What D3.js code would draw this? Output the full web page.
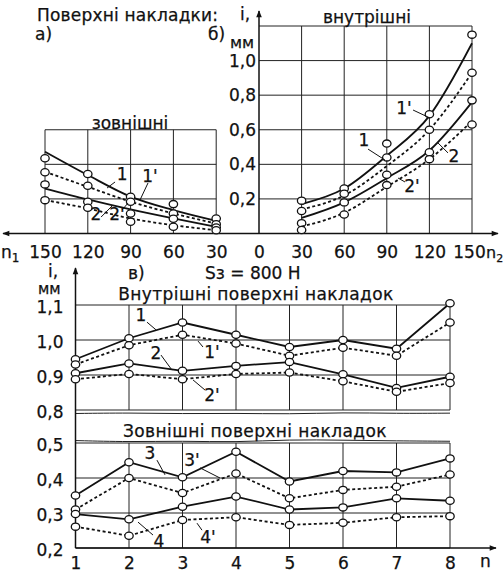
<!DOCTYPE html>
<html>
<head>
<meta charset="utf-8">
<script src="https://cdn.jsdelivr.net/npm/d3@7"></script>
<style>
  body { margin: 0; background: #fff; }
  text { font-family: "DejaVu Sans", "Liberation Sans", sans-serif; fill: #111; stroke: #111; stroke-width: 0.25px; }
</style>
</head>
<body>
<svg id="chart" width="503" height="572"></svg>
<script>
// ---------- top graphs (а - зовнішні, б - внутрішні), i vs n ----------
const nTop = [30, 60, 90, 120, 150];
const topYTicks = [0.2, 0.4, 0.6, 0.8, 1.0];

// а) зовнішні: fitted curves
const aCurve1  = [0.073, 0.135, 0.213, 0.338, 0.473];
const aCurve1p = [0.058, 0.116, 0.184, 0.270, 0.357];
const aCurve2  = [0.039, 0.087, 0.139, 0.197, 0.260];
const aCurve2p = [0.019, 0.048, 0.087, 0.145, 0.193];
// а) measured points
const aPts1  = [0.087, 0.170, 0.213, 0.344, 0.435];
const aPts1p = [0.054, 0.116, 0.184, 0.276, 0.354];
const aPts2  = [0.035, 0.085, 0.116, 0.184, 0.284];
const aPts2p = [0.019, 0.039, 0.068, 0.149, 0.193];

// б) внутрішні: fitted curves
const bCurve1  = [0.17, 0.26, 0.45, 0.68, 1.10];
const bCurve1p = [0.14, 0.22, 0.39, 0.60, 0.93];
const bCurve2  = [0.09, 0.18, 0.32, 0.48, 0.76];
const bCurve2p = [0.04, 0.12, 0.27, 0.43, 0.65];
// б) measured points
const bPts1  = [0.19, 0.26, 0.52, 0.69, 1.15];
const bPts1p = [0.13, 0.23, 0.44, 0.60, 0.93];
const bPts2  = [0.06, 0.18, 0.34, 0.47, 0.77];
const bPts2p = [0.02, 0.11, 0.28, 0.43, 0.63];

// ---------- bottom graph (в), Sз = 800 Н, i vs n ----------
const nBottom = [1, 2, 3, 4, 5, 6, 7, 8];
const upperYTicks = [0.8, 0.9, 1.0, 1.1];
const lowerYTicks = [0.2, 0.3, 0.4, 0.5];

// внутрішні поверхні накладок
const inner1  = [0.945, 1.005, 1.050, 1.015, 0.980, 1.000, 0.975, 1.105];
const inner1p = [0.930, 0.985, 1.015, 0.990, 0.955, 0.978, 0.955, 1.050];
const inner2  = [0.905, 0.933, 0.912, 0.926, 0.937, 0.902, 0.863, 0.895];
const inner2p = [0.888, 0.903, 0.888, 0.903, 0.907, 0.882, 0.852, 0.877];
// зовнішні поверхні накладок
const outer3  = [0.350, 0.445, 0.402, 0.475, 0.390, 0.420, 0.416, 0.456];
const outer3p = [0.310, 0.400, 0.357, 0.413, 0.342, 0.366, 0.375, 0.410];
const outer4  = [0.297, 0.282, 0.318, 0.347, 0.310, 0.316, 0.342, 0.335];
const outer4p = [0.261, 0.235, 0.280, 0.288, 0.266, 0.272, 0.288, 0.291];

// broken-axis wave lines (values)
const waveUpper = [0.790, 0.792, 0.789, 0.791, 0.788, 0.793, 0.790, 0.791];
const waveLower = [0.507, 0.503, 0.506, 0.502, 0.510, 0.508, 0.506, 0.505];

// curve labels: [text, label n, label i, leader start n, i, leader end n, i]
const aLabels = [
  ["1", 96, 0.312, 100.9, 0.298, 106.5, 0.263],
  ["1'", 76.4, 0.298, 77.8, 0.292, 83.4, 0.194],
  ["2", 114.3, 0.078, 110.7, 0.095, 102.3, 0.165],
  ["2'", 99.5, 0.078, 96, 0.136, 91.8, 0.176]
];
const bLabels = [
  ["1", 73.9, 0.506, 76.8, 0.488, 88.7, 0.425],
  ["1'", 102.1, 0.691, 108.5, 0.714, 120.4, 0.668],
  ["2", 137.3, 0.414, 133.1, 0.466, 125.4, 0.529],
  ["2'", 107.7, 0.24, 102.8, 0.298, 97.9, 0.321]
];
const innerLabels = [
  ["1", 2.224, 1.054, 2.336, 1.051, 2.505, 1.029],
  ["2", 2.505, 0.946, 2.598, 0.957, 2.804, 0.914],
  ["1'", 3.551, 0.949, 3.383, 0.980, 3.290, 0.997],
  ["2'", 3.551, 0.826, 3.421, 0.857, 3.196, 0.886]
];
const outerLabels = [
  ["3", 2.393, 0.454, 2.523, 0.451, 2.673, 0.409],
  ["3'", 3.178, 0.434, 3.327, 0.429, 3.701, 0.400],
  ["4", 2.561, 0.203, 2.449, 0.237, 2.168, 0.274],
  ["4'", 3.477, 0.214, 3.364, 0.251, 3.271, 0.271]
];

// ---------- setup ----------
const svg = d3.select("#chart");
const fmtComma = d => d3.format(".1f")(d).replace(".", ",");

// scales for top graphs
const xA = d3.scaleLinear().domain([0, 150]).range([259, 45]);
const xB = d3.scaleLinear().domain([0, 150]).range([259, 472]);
const yTop = d3.scaleLinear().domain([0, 1.2]).range([233.5, 26]);

// scales for bottom graph
const xBot = d3.scaleLinear().domain([1, 8]).range([75.5, 450]);
const yUp = d3.scaleLinear().domain([0.8, 1.1]).range([410, 305]);
const yLow = d3.scaleLinear().domain([0.2, 0.5]).range([548, 443]);

// arrow marker
svg.append("defs").append("marker")
  .attr("id", "arrow")
  .attr("viewBox", "0 0 10 10")
  .attr("refX", 9).attr("refY", 5)
  .attr("markerWidth", 9).attr("markerHeight", 7)
  .attr("markerUnits", "userSpaceOnUse")
  .attr("orient", "auto-start-reverse")
  .append("path")
  .attr("d", "M0,1 L10,5 L0,9 Z")
  .attr("fill", "#111");

// helper: grid lines
function gridLines(g, xs, ys, x0, x1, y0, y1) {
  g.selectAll(null).data(xs).join("line")
    .attr("x1", d => d.x).attr("x2", d => d.x)
    .attr("y1", y0).attr("y2", y1)
    .attr("stroke", "#222").attr("stroke-width", 1);
  g.selectAll(null).data(ys).join("line")
    .attr("x1", x0).attr("x2", x1)
    .attr("y1", d => d.y).attr("y2", d => d.y)
    .attr("stroke", "#222").attr("stroke-width", 1);
}

// helper: one series (line + circles)
function drawSeries(g, xs, curveVals, ptVals, xScale, yScale, dashed, curve) {
  const line = d3.line()
    .x((d, i) => xScale(xs[i]))
    .y(d => yScale(d))
    .curve(curve);
  g.append("path")
    .datum(curveVals)
    .attr("fill", "none")
    .attr("stroke", "#111")
    .attr("stroke-width", 1.8)
    .attr("stroke-dasharray", dashed ? "3,2.5" : null)
    .attr("d", line);
  g.selectAll(null).data(ptVals).join("ellipse")
    .attr("cx", (d, i) => xScale(xs[i]))
    .attr("cy", d => yScale(d))
    .attr("rx", 4.2).attr("ry", 3.6)
    .attr("fill", "#fff")
    .attr("stroke", "#111")
    .attr("stroke-width", 1.3);
}

// helper: labels with leader lines
function callouts(g, labels, xScale, yScale) {
  g.selectAll(null).data(labels).join("line")
    .attr("x1", d => xScale(d[3])).attr("y1", d => yScale(d[4]))
    .attr("x2", d => xScale(d[5])).attr("y2", d => yScale(d[6]))
    .attr("stroke", "#111").attr("stroke-width", 1);
  g.selectAll(null).data(labels).join("text")
    .attr("x", d => xScale(d[1])).attr("y", d => yScale(d[2]))
    .attr("text-anchor", "middle")
    .style("font-size", "17px")
    .text(d => d[0]);
}

// ================= TOP GRAPHS =================
const topG = svg.append("g");

// panel а grid
gridLines(topG,
  nTop.map(n => ({x: xA(n)})),
  [0.2, 0.4, 0.6].map(v => ({y: yTop(v)})),
  xA(150), xA(30), yTop(0), yTop(0.6));
// panel б grid
gridLines(topG,
  nTop.map(n => ({x: xB(n)})),
  [0.2, 0.4, 0.6, 0.8, 1.0, 1.2].map(v => ({y: yTop(v)})),
  xB(0), xB(150), yTop(0), yTop(1.2));

// axes lines with arrows
topG.append("line")
  .attr("x1", 250).attr("x2", 3)
  .attr("y1", yTop(0)).attr("y2", yTop(0))
  .attr("stroke", "#111").attr("stroke-width", 1.5)
  .attr("marker-end", "url(#arrow)");
topG.append("line")
  .attr("x1", 250).attr("x2", 498)
  .attr("y1", yTop(0)).attr("y2", yTop(0))
  .attr("stroke", "#111").attr("stroke-width", 1.5)
  .attr("marker-end", "url(#arrow)");
topG.append("line")
  .attr("x1", xB(0)).attr("x2", xB(0))
  .attr("y1", yTop(0)).attr("y2", 11)
  .attr("stroke", "#111").attr("stroke-width", 1.5)
  .attr("marker-end", "url(#arrow)");

// curves
const smooth = d3.curveMonotoneX;
drawSeries(topG, nTop, aCurve1, aPts1, xA, yTop, false, smooth);
drawSeries(topG, nTop, aCurve1p, aPts1p, xA, yTop, true, smooth);
drawSeries(topG, nTop, aCurve2, aPts2, xA, yTop, false, smooth);
drawSeries(topG, nTop, aCurve2p, aPts2p, xA, yTop, true, smooth);
drawSeries(topG, nTop, bCurve1, bPts1, xB, yTop, false, smooth);
drawSeries(topG, nTop, bCurve1p, bPts1p, xB, yTop, true, smooth);
drawSeries(topG, nTop, bCurve2, bPts2, xB, yTop, false, smooth);
drawSeries(topG, nTop, bCurve2p, bPts2p, xB, yTop, true, smooth);

// tick labels
const yAxisTop = topG.append("g")
  .attr("transform", `translate(${xB(0)},0)`)
  .call(d3.axisLeft(yTop).tickValues(topYTicks).tickFormat(fmtComma).tickSize(0).tickPadding(3));
const xAxisA = topG.append("g")
  .attr("transform", `translate(0,${yTop(0)})`)
  .call(d3.axisBottom(xA).tickValues(nTop).tickSize(0).tickPadding(12));
const xAxisB = topG.append("g")
  .attr("transform", `translate(0,${yTop(0)})`)
  .call(d3.axisBottom(xB).tickValues([0, ...nTop]).tickSize(0).tickPadding(12));
[yAxisTop, xAxisA, xAxisB].forEach(a => {
  a.select(".domain").remove();
  a.selectAll("text").style("font-size", "17px").attr("fill", "#111");
});
// last label sits tight against n2
xAxisB.selectAll(".tick text").filter(d => d === 150).attr("dx", -3);

// n1, n2
const n1 = topG.append("text").attr("x", 1).attr("y", 258).style("font-size", "17px");
n1.append("tspan").text("n");
n1.append("tspan").attr("dy", 4).style("font-size", "12px").text("1");
const n2 = topG.append("text").attr("x", 486).attr("y", 258).style("font-size", "16px");
n2.append("tspan").text("n");
n2.append("tspan").attr("dy", 4).style("font-size", "11px").text("2");

// titles
topG.append("text").attr("x", 37).attr("y", 21).style("font-size", "17px").style("letter-spacing", "0.2px").text("Поверхні накладки:");
topG.append("text").attr("x", 35).attr("y", 40).style("font-size", "17px").text("а)");
topG.append("text").attr("x", 208).attr("y", 40).style("font-size", "17px").text("б)");
topG.append("text").attr("x", 240).attr("y", 20).style("font-size", "17px").text("i,");
topG.append("text").attr("x", 230).attr("y", 48).style("font-size", "16px").text("мм");
topG.append("text").attr("x", 130).attr("y", 129).attr("text-anchor", "middle").style("font-size", "17px").text("зовнішні");
topG.append("text").attr("x", 367).attr("y", 23).attr("text-anchor", "middle").style("font-size", "17px").text("внутрішні");

callouts(topG, aLabels, xA, yTop);
callouts(topG, bLabels, xB, yTop);

// ================= BOTTOM GRAPH =================
const bot = svg.append("g");

// upper box grid
gridLines(bot,
  nBottom.map(n => ({x: xBot(n)})),
  [0.8, 0.9, 1.0, 1.1].map(v => ({y: yUp(v)})),
  xBot(1), xBot(8), yUp(0.8), yUp(1.1));
// lower box grid
gridLines(bot,
  nBottom.map(n => ({x: xBot(n)})),
  [0.2, 0.3, 0.4, 0.5].map(v => ({y: yLow(v)})),
  xBot(1), xBot(8), yLow(0.2), yLow(0.5));

// wave lines for the axis break
const waveLineUp = d3.line().x((d, i) => xBot(nBottom[i])).y(d => yUp(d)).curve(d3.curveBasis);
const waveLineLow = d3.line().x((d, i) => xBot(nBottom[i])).y(d => yLow(d)).curve(d3.curveBasis);
bot.append("path").datum(waveUpper).attr("d", waveLineUp)
  .attr("fill", "none").attr("stroke", "#222").attr("stroke-width", 1);
bot.append("path").datum(waveLower).attr("d", waveLineLow)
  .attr("fill", "none").attr("stroke", "#222").attr("stroke-width", 1);

// axes with arrows
bot.append("line")
  .attr("x1", xBot(1)).attr("x2", xBot(1))
  .attr("y1", yLow(0.2)).attr("y2", 268)
  .attr("stroke", "#111").attr("stroke-width", 1.5)
  .attr("marker-end", "url(#arrow)");
bot.append("line")
  .attr("x1", xBot(1)).attr("x2", 496)
  .attr("y1", yLow(0.2)).attr("y2", yLow(0.2))
  .attr("stroke", "#111").attr("stroke-width", 1.5)
  .attr("marker-end", "url(#arrow)");

// series
const straight = d3.curveLinear;
drawSeries(bot, nBottom, inner1, inner1, xBot, yUp, false, straight);
drawSeries(bot, nBottom, inner1p, inner1p, xBot, yUp, true, straight);
drawSeries(bot, nBottom, inner2, inner2, xBot, yUp, false, straight);
drawSeries(bot, nBottom, inner2p, inner2p, xBot, yUp, true, straight);
drawSeries(bot, nBottom, outer3, outer3, xBot, yLow, false, straight);
drawSeries(bot, nBottom, outer3p, outer3p, xBot, yLow, true, straight);
drawSeries(bot, nBottom, outer4, outer4, xBot, yLow, false, straight);
drawSeries(bot, nBottom, outer4p, outer4p, xBot, yLow, true, straight);

// tick labels
const yAxisUp = bot.append("g")
  .attr("transform", `translate(${xBot(1)},0)`)
  .call(d3.axisLeft(yUp).tickValues(upperYTicks).tickFormat(fmtComma).tickSize(0).tickPadding(12));
const yAxisLow = bot.append("g")
  .attr("transform", `translate(${xBot(1)},0)`)
  .call(d3.axisLeft(yLow).tickValues(lowerYTicks).tickFormat(fmtComma).tickSize(0).tickPadding(12));
const xAxisBot = bot.append("g")
  .attr("transform", `translate(0,${yLow(0.2)})`)
  .call(d3.axisBottom(xBot).tickValues(nBottom).tickFormat(d3.format("d")).tickSize(0).tickPadding(9));
[yAxisUp, yAxisLow, xAxisBot].forEach(a => {
  a.select(".domain").remove();
  a.selectAll("text").style("font-size", "17px").attr("fill", "#111");
});
[yAxisUp, yAxisLow].forEach(a => a.selectAll("text").attr("dy", "0.45em"));
bot.append("text").attr("x", 480).attr("y", 567).style("font-size", "17px").text("n");

// titles
bot.append("text").attr("x", 48).attr("y", 277).style("font-size", "17px").text("i,");
bot.append("text").attr("x", 38).attr("y", 294).style("font-size", "15px").text("мм");
bot.append("text").attr("x", 128).attr("y", 279).style("font-size", "17px").text("в)");
bot.append("text").attr("x", 205).attr("y", 279).style("font-size", "17px").text("Sз = 800 Н");
bot.append("text").attr("x", 256).attr("y", 300).attr("text-anchor", "middle").style("font-size", "17px").style("letter-spacing", "0.4px").text("Внутрішні поверхні накладок");
bot.append("text").attr("x", 255).attr("y", 437).attr("text-anchor", "middle").style("font-size", "17px").style("letter-spacing", "0.4px").text("Зовнішні поверхні накладок");

callouts(bot, innerLabels, xBot, yUp);
callouts(bot, outerLabels, xBot, yLow);
</script>
</body>
</html>
